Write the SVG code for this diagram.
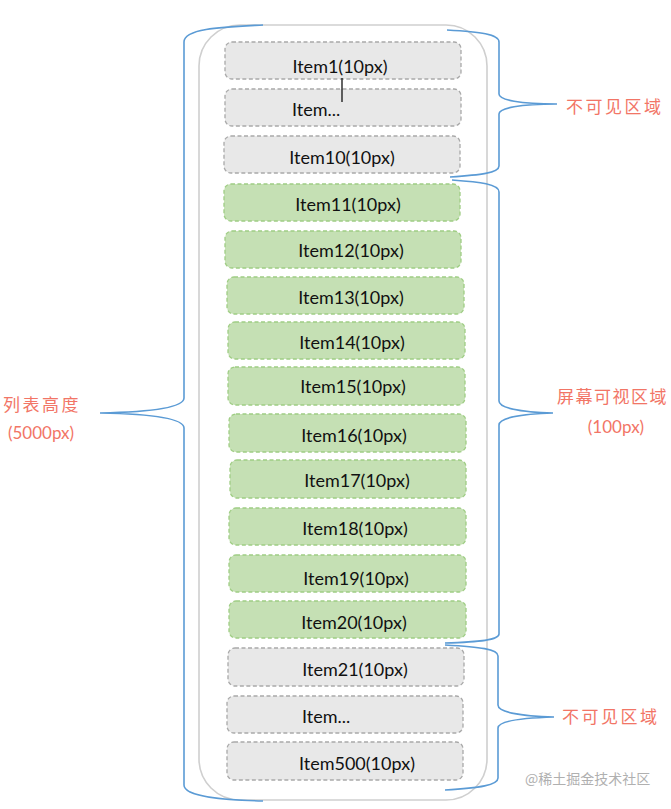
<svg xmlns="http://www.w3.org/2000/svg" width="671" height="809" viewBox="0 0 671 809">
<style>
.frame{fill:none;stroke:#cfcfcf;stroke-width:1.6}
.gray rect{fill:#e8e8e8;stroke:#a9a9a9;stroke-width:1.3;stroke-dasharray:4 2.5}
.green rect{fill:#c5e0b4;stroke:#9fcd84;stroke-width:1.3;stroke-dasharray:4 2.5}
.item text{font-family:Lato,"Open Sans","Liberation Sans",sans-serif;font-size:18px;fill:#111}
.c{text-anchor:middle}
.brace{fill:none;stroke:#5b9bd5;stroke-width:1.6}
.lbl{font-family:"Noto Sans CJK SC","Noto Sans",sans-serif;font-size:17px;fill:#f27566;letter-spacing:2.5px}
.lbl2{font-family:Lato,"Open Sans","Liberation Sans",sans-serif;font-size:17px;fill:#f27566}
.wm{font-family:"Noto Sans CJK SC",sans-serif;font-size:14px;fill:#b0b0b0}
</style>
<rect class="frame" x="199" y="25" width="288" height="775" rx="41" ry="41"/>
<g id="item1" class="item gray"><rect x="225" y="42" width="236" height="37" rx="7"/><text class="c" x="340" y="73">Item1(10px)</text></g>
<g id="item2" class="item gray"><rect x="225" y="89" width="236" height="37" rx="7"/><text x="292" y="116">Item...</text></g>
<g id="item10" class="item gray"><rect x="224" y="136" width="236" height="37" rx="7"/><text class="c" x="342" y="164">Item10(10px)</text></g>
<g id="item11" class="item green"><rect x="224" y="184" width="236" height="37" rx="7"/><text class="c" x="348" y="211">Item11(10px)</text></g>
<g id="item12" class="item green"><rect x="225" y="231" width="236" height="37" rx="7"/><text class="c" x="351" y="257">Item12(10px)</text></g>
<g id="item13" class="item green"><rect x="227" y="277" width="237" height="37" rx="7"/><text class="c" x="351" y="304">Item13(10px)</text></g>
<g id="item14" class="item green"><rect x="228" y="322" width="237" height="37" rx="7"/><text class="c" x="352" y="349">Item14(10px)</text></g>
<g id="item15" class="item green"><rect x="228" y="367" width="237" height="38" rx="7"/><text class="c" x="353" y="393">Item15(10px)</text></g>
<g id="item16" class="item green"><rect x="229" y="414" width="237" height="38" rx="7"/><text class="c" x="354" y="442">Item16(10px)</text></g>
<g id="item17" class="item green"><rect x="230" y="460" width="236" height="38" rx="7"/><text class="c" x="357" y="487">Item17(10px)</text></g>
<g id="item18" class="item green"><rect x="229" y="508" width="237" height="37" rx="7"/><text class="c" x="355" y="535">Item18(10px)</text></g>
<g id="item19" class="item green"><rect x="229" y="555" width="237" height="37" rx="7"/><text class="c" x="356" y="585">Item19(10px)</text></g>
<g id="item20" class="item green"><rect x="229" y="601" width="237" height="37" rx="7"/><text class="c" x="354" y="629">Item20(10px)</text></g>
<g id="item21" class="item gray"><rect x="228" y="648" width="236" height="38" rx="7"/><text class="c" x="355" y="676">Item21(10px)</text></g>
<g id="item22" class="item gray"><rect x="227" y="696" width="236" height="37" rx="7"/><text x="302" y="723">Item...</text></g>
<g id="item500" class="item gray"><rect x="227" y="742" width="236" height="38" rx="7"/><text class="c" x="357" y="770">Item500(10px)</text></g>
<g id="connectors">
<line x1="342" y1="78" x2="342" y2="102" stroke="#111" stroke-width="1.3"/>
<path class="brace" d="M263,25 C225,27 184,28 184,42 L184,398 C184,408 150,412 100,413 C150,414 184,418 184,428 L184,785 C184,797 225,800 263,801"/>
<path class="brace" d="M447,30 C480,32 499,34 499,42 L499,94 C499,100 520,104 557,104 C520,104 499,108 499,114 L499,166 C499,173 480,175 450,177"/>
<path class="brace" d="M452,180 C480,182 499,184 499,192 L499,401 C499,408 520,412 553,413 C520,414 499,418 499,425 L499,634 C499,640 480,642 445,643"/>
<path class="brace" d="M445,645 C480,647 498,649 498,656 L498,705 C498,712 520,716 554,717 C520,718 498,721 498,728 L498,778 C498,785 480,788 445,790"/>
</g>
<g id="labels">
<text class="lbl" x="566" y="113">不可见区域</text>
<text class="lbl" x="557" y="403" style="letter-spacing:1.5px">屏幕可视区域</text>
<text class="lbl2" x="616" y="433" text-anchor="middle">(100px)</text>
<text class="lbl" x="3" y="411">列表高度</text>
<text class="lbl2" x="41" y="439" text-anchor="middle">(5000px)</text>
<text class="lbl" x="562" y="723">不可见区域</text>
<text class="wm" x="525" y="784">@稀土掘金技术社区</text>
</g>
</svg>
